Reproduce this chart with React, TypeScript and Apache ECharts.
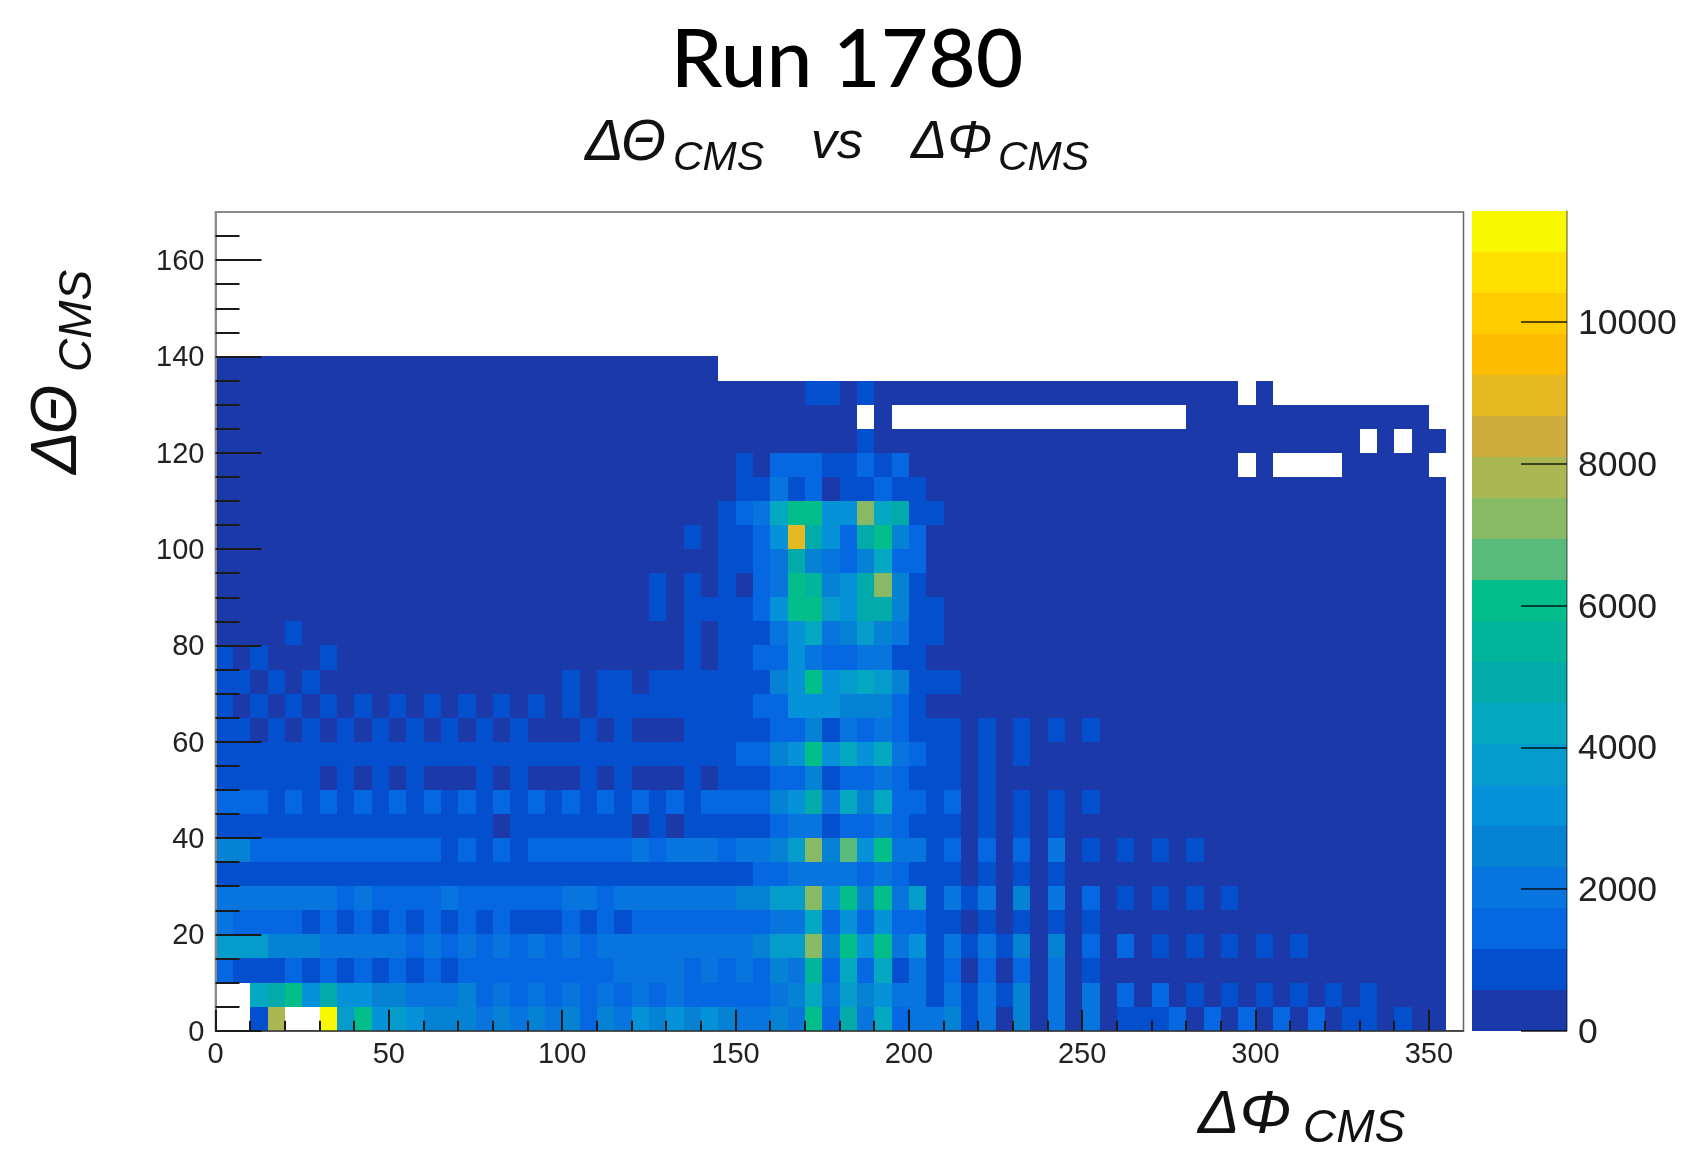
import React, { useEffect, useRef } from "react";
import * as echarts from "echarts";

// Contour levels of the colour palette, from the lowest to the highest.
const levelColors = [
  "#1c39a9", "#044fce", "#0567e2", "#0874dd", "#0582d4",
  "#0592d8", "#059ccc", "#04a8c0", "#03aaaa", "#03b49c",
  "#03bd8a", "#59bb7a", "#88ba65", "#abb752", "#cdae3c",
  "#e5b921", "#fcbc00", "#ffcc00", "#ffe000", "#f8f800",
];
const contourStep = 578.4;

const phiBinWidth = 5;
const thetaBinWidth = 5;

// Cell contents as contour level (base 36 digit), "." = empty cell.
// One string per theta bin from 0 upward, grouped by ten phi bins.
const levelRows = [
  "..1d..j6a5 6544434343 4243545454 3343a28372 3341304030 3011120202 0202011010 0",
  "..78a58554 4333423232 3232323222 2234736453 3131314030 3020201010 1010101000 0",
  "2111212121 2121222222 2223333232 3243927271 3120202030 1000000000 0000000000 0",
  "6664443333 3232323232 3233333333 3466c4a5a3 5131314040 2020101010 1010000000 0",
  "3222212121 2121212111 2121222222 2233725252 2110101010 1000000000 0000000000 0",
  "3333333232 2223222222 3323333333 4466c5a4a3 6131304030 2010101010 0000000000 0",
  "1111111111 1111111111 1111111111 1223333232 1110101010 0000000000 0000000000 0",
  "4422222222 2221212122 2222323332 3346c4b5a3 3120202030 1010101000 0000000000 0",
  "1111111111 1111110111 1111010111 1123312232 1110101010 0000000000 0000000000 0",
  "2221212121 2121212121 2121212122 2245837472 2120101010 1000000000 0000000000 0",
  "1111110101 0100010100 0101000101 1122412232 1110100000 0000000000 0000000000 0",
  "1111111111 1111111111 1111111111 2245a57573 2110101000 0000000000 0000000000 0",
  "1101010101 0101010100 0101000111 1122413232 1110101010 1000000000 0000000000 0",
  "1010101010 1010101010 1011111111 1225554442 1000000000 0000000000 0000000000 0",
  "1101010000 0000000000 1011011111 1145a56764 1110000000 0000000000 0000000000 0",
  "1010001000 0000000000 0000000101 1225322331 1000000000 0000000000 0000000000 0",
  "0000100000 0000000000 0000000101 1135734643 1100000000 0000000000 0000000000 0",
  "0000000000 0000000000 0000010111 125aa65884 1100000000 0000000000 0000000000 0",
  "0000000000 0000000000 0000010101 023a9458c4 1000000000 0000000000 0000000000 0",
  "0000000000 0000000000 0000000001 1238432472 2000000000 0000000000 0000000000 0",
  "0000000000 0000000000 0000000101 125f8528a4 2000000000 0000000000 0000000000 0",
  "0000000000 0000000000 0000000001 237aa55c78 1100000000 0000000000 0000000000 0",
  "0000000000 0000000000 0000000000 1131201121 1000000000 0000000000 0000000000 0",
  "0000000000 0000000000 0000000000 1022211212 0000000000 000000000. 0....00000 .",
  "0000000000 0000000000 0000000000 0000000100 0000000000 0000000000 000000.0.0 0",
  "0000000000 0000000000 0000000000 0000000.0. .......... ......0000 0000000000 .",
  "0000000000 0000000000 0000000000 0000110100 0000000000 000000000. 0......... .",
  "0000000000 0000000000 000000000. .......... .......... .......... .......... .",
];

const phiMajorTicks = [0, 50, 100, 150, 200, 250, 300, 350];
const phiMinorTicks = [10, 20, 30, 40, 60, 70, 80, 90, 110, 120, 130, 140, 160, 170, 180, 190, 210, 220, 230, 240, 260, 270, 280, 290, 310, 320, 330, 340];
const thetaMajorTicks = [0, 20, 40, 60, 80, 100, 120, 140, 160];
const thetaMinorTicks = [5, 10, 15, 25, 30, 35, 45, 50, 55, 65, 70, 75, 85, 90, 95, 105, 110, 115, 125, 130, 135, 145, 150, 155, 165];
const colorTicks = [0, 2000, 4000, 6000, 8000, 10000];

const cells: number[][] = [];
levelRows.forEach((row, j) => {
  row.replace(/ /g, "").split("").forEach((c, i) => {
    if (c === ".") return;
    cells.push([i * phiBinWidth, j * thetaBinWidth, (parseInt(c, 36) + 0.5) * contourStep]);
  });
});
const colorBands = levelColors.map((_, i) => [i * contourStep, (i + 1) * contourStep]);

const LABEL_FONT = "Liberation Sans";
const TICK = "#1a1a1a";

const italic = (size: number) => `italic ${size}px "Liberation Sans"`;

const txt = (text: string, x: number, y: number, font: string, extra: any = {}) => ({
  type: "text",
  x,
  y,
  silent: true,
  ...extra,
  style: { text, font, fill: "#111", align: "left", verticalAlign: "middle", ...(extra.style || {}) },
});

export default function App() {
  const ref = useRef<HTMLDivElement>(null);
  useEffect(() => {
    const chart = echarts.init(ref.current!, undefined, { renderer: "svg" });
    chart.setOption({
      animation: false,
      backgroundColor: "#ffffff",
      grid: [
        { left: 215.5, top: 212, width: 1248, height: 818.7, show: true, borderColor: "#666666", borderWidth: 1.5, backgroundColor: "#ffffff", outerBoundsMode: "none" },
        { left: 1472, top: 211, width: 95, height: 819.7, outerBoundsMode: "none" },
      ],
      xAxis: [
        {
          type: "value", gridIndex: 0, min: 0, max: 360, position: "bottom", z: 5,
          splitLine: { show: false },
          axisLine: { show: true, onZero: false, lineStyle: { color: "#333333", width: 1.5 } },
          axisTick: { show: true, inside: true, length: 21, customValues: phiMajorTicks, lineStyle: { color: TICK, width: 2 } },
          axisLabel: { show: true, customValues: phiMajorTicks, margin: 8, fontSize: 29, fontFamily: LABEL_FONT, color: "#222222", hideOverlap: false },
        },
        {
          type: "value", gridIndex: 0, min: 0, max: 360, position: "bottom", z: 5,
          splitLine: { show: false },
          axisLine: { show: false, onZero: false },
          axisTick: { show: true, inside: true, length: 10, customValues: phiMinorTicks, lineStyle: { color: TICK, width: 2 } },
          axisLabel: { show: false },
        },
        {
          type: "value", gridIndex: 1, min: 0, max: 1, show: false, position: "bottom",
        },
      ],
      yAxis: [
        {
          type: "value", gridIndex: 0, min: 0, max: 170, position: "left", z: 5,
          splitLine: { show: false },
          axisLine: { show: true, onZero: false, lineStyle: { color: "#8a8a8a", width: 2 } },
          axisTick: { show: true, inside: true, length: 46, customValues: thetaMajorTicks, lineStyle: { color: TICK, width: 2 } },
          axisLabel: { show: true, customValues: thetaMajorTicks, margin: 11, fontSize: 29, fontFamily: LABEL_FONT, color: "#222222" },
        },
        {
          type: "value", gridIndex: 0, min: 0, max: 170, position: "left", z: 5,
          splitLine: { show: false },
          axisLine: { show: false, onZero: false },
          axisTick: { show: true, inside: true, length: 24, customValues: thetaMinorTicks, lineStyle: { color: TICK, width: 2 } },
          axisLabel: { show: false },
        },
        {
          type: "value", gridIndex: 1, min: 0, max: contourStep * levelColors.length, position: "right", z: 5,
          splitLine: { show: false },
          axisLine: { show: true, onZero: false, lineStyle: { color: "rgba(0,0,0,0.45)", width: 1.5 } },
          axisTick: { show: true, inside: true, length: 46, customValues: colorTicks, lineStyle: { color: "rgba(0,0,0,0.65)", width: 2 } },
          axisLabel: { show: true, customValues: colorTicks, margin: 11, fontSize: 35.5, fontFamily: LABEL_FONT, color: "#222222", formatter: (v: number) => String(v) },
        },
      ],
      visualMap: {
        show: false,
        type: "piecewise",
        seriesIndex: 0,
        dimension: 2,
        pieces: levelColors.map((color, i) => ({ gte: i * contourStep, lt: (i + 1) * contourStep, color })),
      },
      series: [
        {
          type: "custom",
          xAxisIndex: 0,
          yAxisIndex: 0,
          data: cells,
          encode: { x: 0, y: 1 },
          silent: true,
          renderItem: (_: any, api: any) => {
            const a = api.coord([api.value(0), api.value(1) + thetaBinWidth]);
            const b = api.coord([api.value(0) + phiBinWidth, api.value(1)]);
            const x = Math.round(a[0]);
            const y = Math.round(a[1]);
            return {
              type: "rect",
              shape: { x, y, width: Math.round(b[0]) - x, height: Math.round(b[1]) - y },
              style: { fill: api.visual("color") },
            };
          },
        },
        {
          type: "custom",
          xAxisIndex: 2,
          yAxisIndex: 2,
          data: colorBands,
          encode: { y: [0, 1] },
          silent: true,
          renderItem: (params: any, api: any) => {
            const a = api.coord([0, api.value(1)]);
            const b = api.coord([1, api.value(0)]);
            const y = Math.round(a[1]);
            return {
              type: "rect",
              shape: { x: a[0], y, width: b[0] - a[0], height: Math.round(b[1]) - y },
              style: { fill: levelColors[params.dataIndex] },
            };
          },
        },
      ],
      graphic: [
        {
          ...txt("Run 1780", 847, 55, '500 82px "Lato"'),
          style: { text: "Run 1780", font: '500 82px "Lato"', fill: "#000", align: "center", verticalAlign: "middle" },
        },
        txt("ΔΘ", 585, 139, italic(58)),
        txt("CMS", 673, 156, italic(41)),
        txt("vs", 811, 140, italic(52)),
        txt("ΔΦ", 911, 139, italic(54)),
        txt("CMS", 998, 156, italic(41)),
        txt("ΔΦ", 1198, 1111, italic(62)),
        txt("CMS", 1303, 1126, italic(46)),
        txt("ΔΘ", 54, 474, italic(64), { rotation: Math.PI / 2 }),
        txt("CMS", 75, 372, italic(46), { rotation: Math.PI / 2 }),
      ],
    });
    return () => chart.dispose();
  }, []);
  return <div ref={ref} style={{ position: "absolute", left: 0, top: 0, width: 1681, height: 1154, filter: "blur(0.5px)" }} />;
}
